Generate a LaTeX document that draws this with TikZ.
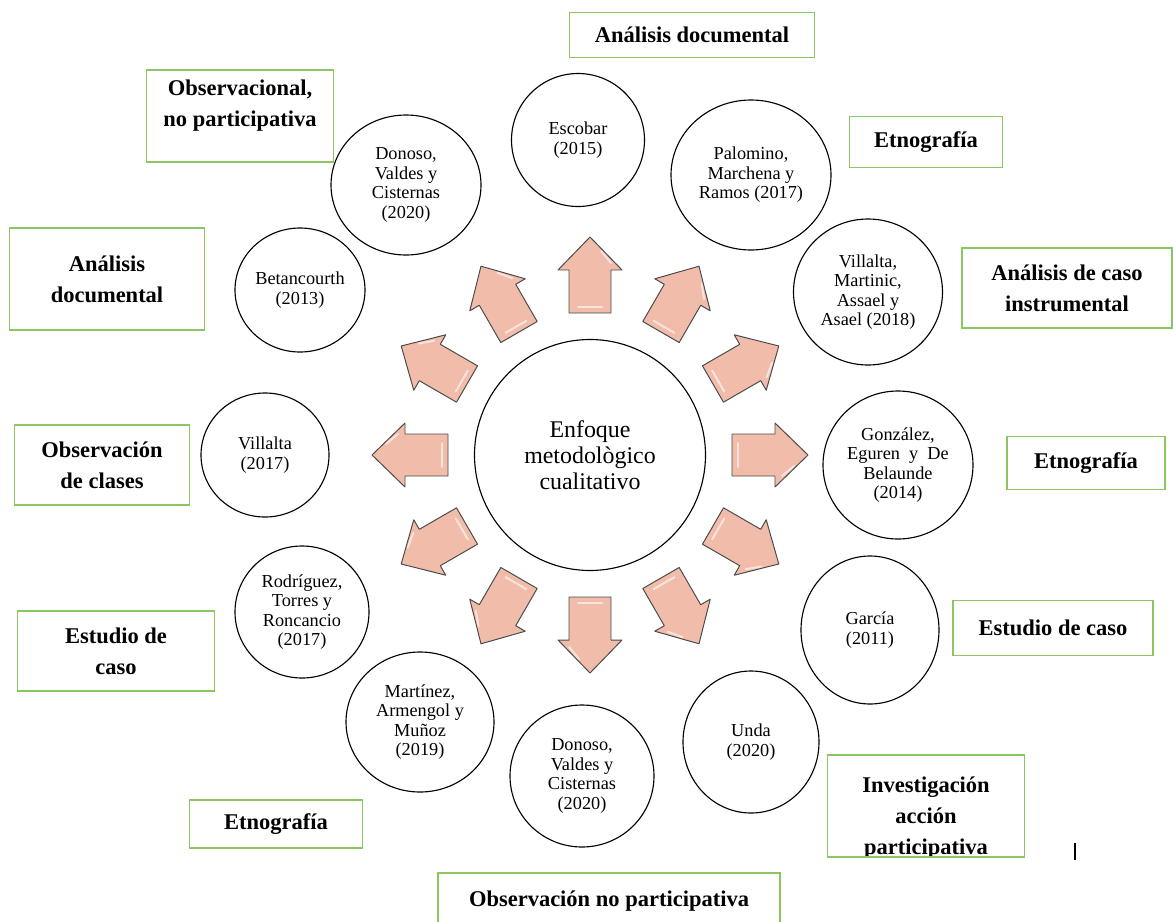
\documentclass[tikz,border=0pt]{standalone}
\usepackage{fontspec}
\setmainfont{Liberation Serif}
\usetikzlibrary{shapes.geometric}

\definecolor{boxgreen}{RGB}{140,198,95}
\definecolor{arrowpink}{RGB}{241,189,170}
\definecolor{arrowedge}{RGB}{75,75,75}

\tikzset{
  hub/.style={circle, draw, line width=0.8pt, inner sep=0pt, minimum size=231*0.025cm,
    align=center, font=\fontsize{17}{18.5}\selectfont},
  bubble/.style 2 args={ellipse, draw, line width=0.8pt, inner sep=0pt,
    minimum width=#1*0.025cm, minimum height=#2*0.025cm,
    align=center, font=\fontsize{13}{13.8}\selectfont},
  tag/.style 2 args={draw=boxgreen, line width=1.3pt, inner sep=0pt,
    minimum width=#1*0.025cm, minimum height=#2*0.025cm,
    align=center, font=\bfseries\fontsize{16}{22}\selectfont},
  tagtext/.style={align=center, inner sep=0pt, font=\bfseries\fontsize{16}{22}\selectfont},
  blockarrow/.style={fill=arrowpink, draw=arrowedge, line width=0.7pt, line join=round},
  shine/.style={white, line width=1.4pt, line cap=round, opacity=0.6}
}

\begin{document}
\begin{tikzpicture}[x=0.025cm, y=-0.025cm]
  \useasboundingbox (0,0) rectangle (1173,922);

  % centre
  \node[hub] (hub) at (590,455) {Enfoque\\metodològico\\cualitativo};

  % block arrows all round the centre
  \foreach \a in {0,30,...,330}{
    \draw[blockarrow, shift={(hub)}, rotate=\a]
      (142,-21) -- (185,-21) -- (185,-32) -- (218,0) -- (185,32) -- (185,21) -- (142,21) -- cycle;
    \draw[shine, shift={(hub)}, rotate=\a] (148,-12) -- (148,12);
    \draw[shine, shift={(hub)}, rotate=\a] (192,21) -- (204,11);
  }

  % authors
  \node[bubble={133}{133}] (escobar) at (578,140) {Escobar\\(2015)};
  \node[bubble={160}{150}] (palomino) at (751,175) {Palomino,\\Marchena y\\Ramos (2017)};
  \node[bubble={149}{146}] (villaltam) at (868,292) {Villalta,\\Martinic,\\Assael y\\Asael (2018)};
  \node[bubble={150}{148}] (gonzalez) at (898,465) {González,\\Eguren \ y \ De\\Belaunde\\(2014)};
  \node[bubble={138}{148}] (garcia) at (870,630) {García\\(2011)};
  \node[bubble={136}{142}] (unda) at (751,742) {Unda\\(2020)};
  \node[bubble={144}{142}] (donosob) at (582,776) {Donoso,\\Valdes y\\Cisternas\\(2020)};
  \node[bubble={148}{140}] (martinez) at (420,722) {Martínez,\\Armengol y\\Muñoz\\(2019)};
  \node[bubble={134}{132}] (rodriguez) at (302,612) {Rodríguez,\\Torres y\\Roncancio\\(2017)};
  \node[bubble={128}{124}] (villalta) at (265,455) {Villalta\\(2017)};
  \node[bubble={130}{124}] (betancourth) at (300,290) {Betancourth\\(2013)};
  \node[bubble={150}{140}] (donosot) at (406,185) {Donoso,\\Valdes y\\Cisternas\\(2020)};

  % methods
  \node[tag={245}{45}] (andoc) at (692,35) {Análisis documental};
  \node[tag={187}{92}] (obsnp) at (240,116) {};
  \node[tagtext] at (240,106) {Observacional,\\no participativa};
  \node[tag={153}{51}] (etno) at (926,142) {Etnografía};
  \node[tag={195}{102}] (andoc2) at (107,279) {Análisis\\documental};
  \node[tag={210}{80}] (ancaso) at (1067,288) {Análisis de caso\\instrumental};
  \node[tag={175}{80}] (obsclas) at (102,465) {Observación\\de clases};
  \node[tag={158}{53}] (etno2) at (1086,463) {Etnografía};
  \node[tag={200}{55}] (estcaso) at (1053,628) {Estudio de caso};
  \node[tag={197}{80}] (estcaso2) at (116,651) {Estudio de\\caso};
  \node[tag={197}{102}] (iap) at (926,806) {};
  \begin{scope}
    \clip (828,755) rectangle (1025,855);
    \node[tagtext] at (926,818) {Investigación\\acción\\participativa};
  \end{scope}
  \node[tag={173}{48}] (etno3) at (276,824) {Etnografía};
  \node[tag={342}{56}] (obsnp2) at (609,901) {Observación no participativa};

  \draw[line width=1pt] (1075,843) -- (1075,860);
\end{tikzpicture}
\end{document}
